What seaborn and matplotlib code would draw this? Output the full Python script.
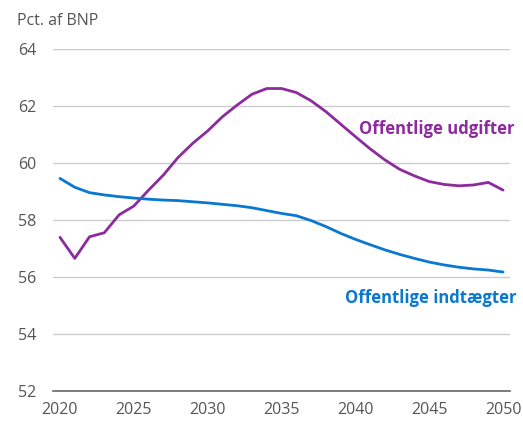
import numpy as np
import pandas as pd
import matplotlib
matplotlib.use('Agg')
import matplotlib.pyplot as plt
from matplotlib.ticker import FixedLocator
import seaborn as sns

years = list(range(2020, 2051))

udgifter = [57.39, 56.65, 57.41, 57.55, 58.18, 58.49, 59.05, 59.58, 60.20, 60.70,
            61.13, 61.63, 62.04, 62.42, 62.62, 62.62, 62.48, 62.19, 61.81, 61.37,
            60.93, 60.50, 60.11, 59.78, 59.55, 59.35, 59.25, 59.20, 59.23, 59.32,
            59.05]

indtaegter = [59.46, 59.15, 58.96, 58.88, 58.82, 58.77, 58.73, 58.70, 58.68, 58.64,
              58.60, 58.55, 58.50, 58.43, 58.33, 58.23, 58.15, 57.98, 57.77, 57.53,
              57.32, 57.13, 56.95, 56.79, 56.65, 56.52, 56.42, 56.34, 56.28, 56.24,
              56.17]

purple = '#8c2a9e'
blue = '#0a78d0'
grey = '#555555'

df = pd.DataFrame({'aar': years, 'udgifter': udgifter, 'indtaegter': indtaegter})

sns.set_style('white')
plt.rcParams['font.family'] = ['Open Sans', 'DejaVu Sans']

fig = plt.figure(figsize=(5.23, 4.21), dpi=100)
ax = fig.add_axes([0.1006, 0.072, 0.8754, 0.811])

sns.lineplot(data=df, x='aar', y='udgifter', color=purple, linewidth=2.0, ax=ax)
sns.lineplot(data=df, x='aar', y='indtaegter', color=blue, linewidth=2.0, ax=ax)

ax.set_xlim(2019.5, 2050.5)
ax.set_ylim(52, 64)
ax.set_yticks(range(52, 65, 2))
ax.set_xticks(range(2020, 2051, 5))
ax.xaxis.set_minor_locator(FixedLocator(np.arange(2019.5, 2051, 1)))
ax.grid(axis='y', color='#cccccc', linewidth=1.0)
ax.set_axisbelow(True)
ax.set_xlabel('')
ax.set_ylabel('')

for s in ['top', 'right', 'left']:
    ax.spines[s].set_visible(False)
ax.spines['bottom'].set_color('#666666')
ax.spines['bottom'].set_linewidth(1.2)

ax.tick_params(axis='x', which='major', length=0, pad=8, labelsize=11.5, labelcolor=grey)
ax.tick_params(axis='x', which='minor', length=3.5, width=1, direction='in', color='#666666')
ax.tick_params(axis='y', length=0, pad=12, labelsize=11.5, labelcolor=grey)
# hide the gridline at 52 (axis line sits there)
ax.get_ygridlines()[0].set_visible(False)

fig.text(0.032, 0.951, 'Pct. af BNP', color=grey, fontsize=11.5, va='center', ha='left')

ax.text(2050.8, 61.2, 'Offentlige udgifter', color=purple, fontsize=12,
        fontweight='bold', ha='right', va='center')
ax.text(2050.9, 55.26, 'Offentlige indtægter', color=blue, fontsize=12,
        fontweight='bold', ha='right', va='center')

fig.savefig('out.png', dpi=100)
